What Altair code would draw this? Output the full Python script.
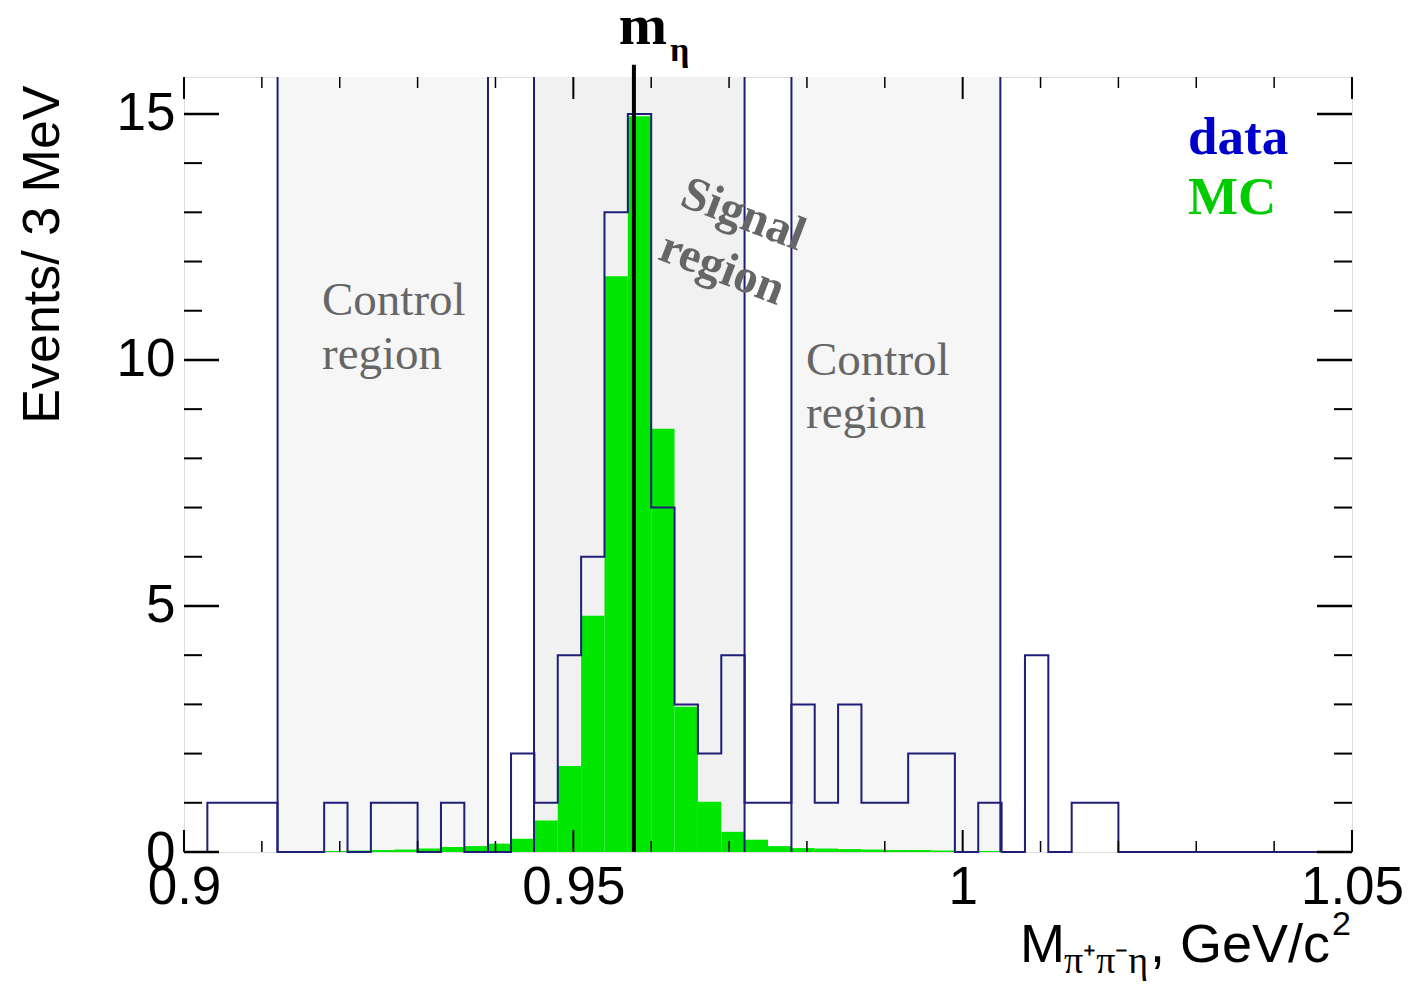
import altair as alt
import pandas as pd

# ---------------- data ----------------
x_min, x_max = 0.9, 1.05
bin_width = 0.003
y_max = 15.75

data_counts = [0, 1, 1, 1, 0, 0, 1, 0, 1, 1,
               0, 1, 0, 0, 2, 1, 4, 6, 13, 15,
               7, 3, 2, 4, 1, 1, 3, 1, 3, 1,
               1, 2, 2, 0, 1, 0, 4, 0, 1, 1,
               0, 0, 0, 0, 0, 0, 0, 0, 0, 0]
mc_counts = [0, 0, 0, 0, 0, 0.01, 0.02, 0.03, 0.04, 0.05,
             0.07, 0.10, 0.12, 0.17, 0.27, 0.64, 1.75, 4.80, 11.70, 14.95,
             8.60, 2.95, 1.02, 0.41, 0.25, 0.12, 0.08, 0.07, 0.06, 0.05,
             0.04, 0.04, 0.03, 0.02, 0.02, 0.01, 0, 0, 0, 0,
             0, 0, 0, 0, 0, 0, 0, 0, 0, 0]

m_eta_prime = 0.95778

region_lo = [0.91202, 0.94495, 0.97801]
region_hi = [0.93904, 0.97199, 1.00484]
region_fill = ["#f6f6f6", "#f1f1f1", "#f6f6f6"]

x_tick_labels = [0.9, 0.95, 1.0, 1.05]
x_minor_ticks = [0.91, 0.92, 0.93, 0.94, 0.96, 0.97, 0.98, 0.99,
                 1.01, 1.02, 1.03, 1.04]
y_tick_labels = [0, 5, 10, 15]
y_minor_ticks = [1, 2, 3, 4, 6, 7, 8, 9, 11, 12, 13, 14]

control_text = ["Control", "region", "Control", "region"]
control_x = [0.91772, 0.91772, 0.97988, 0.97988]
control_y = [10.91, 9.81, 9.69, 8.61]

signal_text = ["Signal", "region"]
signal_x = [0.97180, 0.96909]
signal_y = [12.95, 11.85]

legend_text = ["data", "MC"]
legend_color = ["#0000cc", "#00cc00"]
legend_x = [1.02894, 1.02894]
legend_y = [14.19, 12.97]

# ---------------- layout ----------------
W, H = 1168, 775
SANS = "Liberation Sans"
SERIF = "Liberation Serif"
NAVY = "#1e1e78"

xs = alt.Scale(domain=[x_min, x_max], nice=False, zero=False)
ys = alt.Scale(domain=[0, y_max], nice=False, zero=True)

xaxis = alt.Axis(values=x_tick_labels, format="~g", title=None, grid=False,
                 domain=False, ticks=False, labelFont=SANS, labelFontSize=53,
                 labelColor="black", labelPadding=9, labelFlush=False,
                 labelOverlap=False)
yaxis = alt.Axis(values=y_tick_labels, format="d", title="Events/ 3 MeV",
                 grid=False, domain=False, ticks=False, labelFont=SANS,
                 labelFontSize=53, labelColor="black", labelPadding=9,
                 labelFlush=False, labelOverlap=False,
                 titleFont=SANS, titleFontSize=52, titleFontWeight="normal",
                 titleColor="black", titleAngle=270, titleAlign="right",
                 titleBaseline="alphabetic", titleX=-126, titleY=8)

X = lambda f: alt.X(f, scale=xs, axis=xaxis)
Y = lambda f: alt.Y(f, scale=ys, axis=yaxis)

n = len(data_counts)
bins = pd.DataFrame({
    "lo": [x_min + bin_width * i for i in range(n)],
    "hi": [x_min + bin_width * (i + 1) for i in range(n)],
    "data": data_counts,
    "mc": mc_counts,
})
steps = pd.DataFrame({
    "x": list(bins["lo"]) + [x_max],
    "y": data_counts + [data_counts[-1]],
})
regions = pd.DataFrame({"lo": region_lo, "hi": region_hi, "fill": region_fill,
                        "top": [y_max] * 3})
bounds = pd.DataFrame({"x": region_lo + region_hi, "top": [y_max] * 6})

region_layer = alt.Chart(regions).mark_rect().encode(
    x=X("lo:Q"), x2="hi:Q", y=Y("top:Q"), y2=alt.datum(0),
    fill=alt.Fill("fill:N", scale=None))

mc_layer = alt.Chart(bins).mark_rect(color="#00e600").encode(
    x=X("lo:Q"), x2="hi:Q", y=Y("mc:Q"), y2=alt.datum(0))

bound_layer = alt.Chart(bounds).mark_rule(color=NAVY, strokeWidth=2).encode(
    x=X("x:Q"), y=Y("top:Q"), y2=alt.datum(0))

data_layer = alt.Chart(steps).mark_line(interpolate="step-after", color=NAVY,
                                        strokeWidth=2).encode(
    x=X("x:Q"), y=Y("y:Q"))

# inside ticks (ROOT style)
def yticks(vals, x0, x1, w):
    return alt.Chart(pd.DataFrame({"v": vals})).mark_rule(
        color="black", strokeWidth=w).encode(
        y=Y("v:Q"), x=alt.value(x0), x2=alt.value(x1))

def xticks(vals, y0, y1, w):
    return alt.Chart(pd.DataFrame({"v": vals})).mark_rule(
        color="black", strokeWidth=w).encode(
        x=X("v:Q"), y=alt.value(y0), y2=alt.value(y1))

tick_layers = [
    yticks(y_tick_labels, 0, 35, 2.5), yticks(y_minor_ticks, 0, 18, 2),
    yticks(y_tick_labels, W - 35, W, 2.5), yticks(y_minor_ticks, W - 18, W, 2),
    xticks(x_tick_labels, H, H - 22, 2), xticks(x_minor_ticks, H, H - 11, 1.5),
    xticks(x_tick_labels, 0, 22, 2), xticks(x_minor_ticks, 0, 11, 1.5),
]

meta_line = alt.Chart(pd.DataFrame({"x": [m_eta_prime], "top": [16.0]})).mark_rule(
    color="black", strokeWidth=4).encode(x=X("x:Q"), y=Y("top:Q"), y2=alt.datum(0))

control_layer = alt.Chart(pd.DataFrame({"x": control_x, "y": control_y,
                                        "t": control_text})).mark_text(
    font=SERIF, fontSize=47, color="#666666", align="left",
    baseline="alphabetic").encode(x=X("x:Q"), y=Y("y:Q"), text="t:N")

signal_layer = alt.Chart(pd.DataFrame({"x": signal_x, "y": signal_y,
                                       "t": signal_text})).mark_text(
    font=SERIF, fontSize=48, fontWeight="bold", color="#666666", align="center",
    baseline="middle", angle=21).encode(x=X("x:Q"), y=Y("y:Q"), text="t:N")

legend_layer = alt.Chart(pd.DataFrame({"x": legend_x, "y": legend_y,
                                       "t": legend_text, "c": legend_color})).mark_text(
    font=SERIF, fontSize=53, fontWeight="bold", align="left",
    baseline="alphabetic").encode(x=X("x:Q"), y=Y("y:Q"), text="t:N",
                                  color=alt.Color("c:N", scale=None))

m_layer = alt.Chart(pd.DataFrame({"x": [0.95895], "y": [16.43], "t": ["m"]})).mark_text(
    font=SERIF, fontSize=58, fontWeight="bold", color="black", align="center",
    baseline="alphabetic").encode(x=X("x:Q"), y=Y("y:Q"), text="t:N")
eta_layer = alt.Chart(pd.DataFrame({"x": [0.96241], "y": [16.08], "t": ["η"]})).mark_text(
    font=SERIF, fontSize=34, fontWeight="bold", color="black", align="left",
    baseline="alphabetic").encode(x=X("x:Q"), y=Y("y:Q"), text="t:N")

# x-axis title with sub/superscripts
def ptext(t, px, py, size, font, align="left"):
    return alt.Chart(pd.DataFrame({"t": [t]})).mark_text(
        font=font, fontSize=size, color="black", align=align,
        baseline="alphabetic").encode(x=alt.value(px), y=alt.value(py), text="t:N")

xtitle = [
    ptext("M", 836, 885, 54, SANS),
    ptext("π⁺π⁻η", 880, 896, 38, SERIF),
    ptext(", GeV/c", 966, 885, 54, SANS),
    ptext("2", 1148, 858, 34, SANS),
]

chart = alt.layer(
    region_layer, mc_layer, bound_layer, data_layer, *tick_layers,
    control_layer, signal_layer, legend_layer, meta_line, m_layer, eta_layer,
    *xtitle
).properties(
    width=W, height=H,
    autosize=alt.AutoSizeParams(type="none"),
    padding={"left": 184, "top": 77, "right": 1409 - 184 - W, "bottom": 985 - 77 - H},
).configure_view(stroke="black", strokeWidth=2).configure(background="white")

chart.save("out.html", embed_options={"renderer": "svg", "actions": False})
